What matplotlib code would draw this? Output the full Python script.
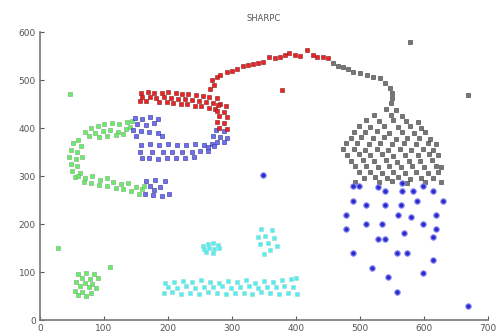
import matplotlib
matplotlib.use("Agg")
import matplotlib.pyplot as plt

# ---- data ----
red_x = [158, 168, 178, 190, 200, 212, 222, 232, 244, 254, 264, 276,
         160, 172, 182, 194, 204, 216, 226, 238, 248, 260, 270, 282,
         156, 166, 186, 198, 208, 220, 230, 242, 252, 264, 274,
         278, 290, 276, 288, 280, 292, 276, 288, 280, 292,
         266, 272, 269, 277, 281, 292, 300, 308, 317, 325, 333, 341, 348,
         358, 367, 375, 383, 389, 398, 406, 417, 427, 433, 442, 450, 378]
red_y = [473, 474, 472, 473, 474, 472, 471, 470, 468, 467, 465, 462,
         464, 465, 463, 464, 462, 461, 460, 458, 457, 455, 452, 450,
         456, 457, 455, 455, 453, 450, 449, 446, 445, 442, 440,
         448, 446, 436, 434, 424, 422, 412, 410, 400, 398,
         482, 490, 500, 506, 510, 517, 519, 523, 529, 531, 533, 535, 537,
         548, 546, 548, 552, 556, 552, 550, 562, 552, 548, 548, 546, 479]

blue_small_x = [275, 287, 270, 282, 292, 276, 288,
                158, 172, 186, 200, 214, 228, 242, 256, 268,
                156, 175, 192, 206, 222, 238, 250, 262,
                160, 170, 184, 198, 212, 226, 240, 262, 272,
                148, 160, 172, 184, 152, 166, 178, 146, 158, 170, 185, 150, 190,
                165, 180, 196, 172, 188, 178, 164, 176, 190, 202]
blue_small_y = [395, 393, 383, 381, 380, 371, 370,
                365, 366, 364, 366, 365, 364, 366, 365, 367,
                350, 351, 349, 350, 351, 350, 352, 353,
                337, 338, 336, 337, 338, 337, 339, 360, 362,
                420, 418, 422, 419, 408, 406, 410, 396, 394, 392, 390, 384, 383,
                290, 292, 290, 280, 278, 270, 262, 260, 258, 262]

blue_big_x = [489, 498, 528, 539, 566, 566, 583, 598, 614, 489, 509, 539,
              564, 589, 630, 478, 559, 580, 619, 509, 534, 598, 478, 619,
              569, 614, 528, 539, 489, 558, 573, 614, 519, 598, 544, 558,
              669, 348]
blue_big_y = [279, 279, 277, 269, 285, 269, 269, 279, 269, 248, 240, 240,
              240, 248, 248, 219, 219, 215, 219, 200, 200, 200, 190, 190,
              181, 173, 169, 169, 140, 140, 140, 125, 108, 98, 90, 58,
              29, 302]

black_x = [458, 466, 473, 481, 489, 500, 511, 520, 531, 539, 547, 550, 550,
           548, 540, 556, 522, 548, 566, 510, 530, 552, 572, 590,
           498, 516, 538, 560, 578, 596, 490, 508, 526, 546, 566, 584, 602,
           486, 502, 520, 538, 556, 574, 592, 610,
           478, 496, 514, 532, 550, 568, 588, 606, 618,
           474, 490, 508, 526, 544, 562, 580, 598, 614,
           480, 498, 516, 534, 552, 570, 590, 608, 622,
           486, 504, 522, 540, 558, 576, 594, 612,
           492, 510, 528, 546, 564, 582, 600, 618, 626,
           498, 516, 534, 552, 570, 588, 606, 622,
           506, 524, 542, 560, 578, 596, 614,
           492, 530, 550, 574, 602, 626,
           578, 669]
black_y = [535, 529, 527, 523, 517, 515, 510, 506, 504, 494, 483, 473, 462,
           452, 440, 438, 428, 427, 426, 416, 415, 417, 414, 412,
           404, 403, 405, 402, 404, 401, 392, 391, 393, 390, 392, 389, 391,
           380, 381, 379, 381, 378, 380, 379, 377,
           368, 369, 367, 369, 366, 368, 367, 369, 366,
           356, 357, 355, 357, 354, 356, 355, 357, 354,
           344, 345, 343, 345, 342, 344, 343, 345, 343,
           332, 333, 331, 333, 330, 332, 331, 333,
           320, 321, 319, 321, 318, 320, 319, 321, 318,
           308, 309, 307, 309, 306, 308, 307, 309,
           296, 297, 295, 297, 294, 296, 295,
           288, 287, 289, 286, 288, 287,
           579, 469]

green_x = [70, 80, 90, 100, 112, 124, 136, 144, 86, 98, 110, 122, 134, 140,
           76, 92, 104, 118, 130,
           60, 52, 64, 48, 58, 46, 56, 66, 48, 58, 50, 62, 54,
           60, 70, 82, 94, 104, 114, 126, 138, 150, 160,
           68, 80, 92, 104, 118, 130, 142, 154, 162,
           47, 28, 109,
           60, 72, 84, 66, 78, 90, 56, 70, 82, 62, 76, 88, 54, 66, 80, 72, 60]
green_y = [392, 400, 405, 408, 410, 408, 412, 415, 390, 394, 395, 392, 398, 402,
           384, 382, 384, 386, 388,
           376, 368, 362, 355, 350, 340, 335, 340, 325, 320, 310, 306, 298,
           300, 296, 300, 292, 296, 288, 284, 286, 278, 272,
           288, 286, 282, 280, 276, 272, 268, 262, 280,
           471, 150, 110,
           95, 98, 96, 88, 86, 88, 80, 78, 76, 70, 68, 66, 60, 58, 56, 50, 52]

cyan_x = [254, 262, 270, 278, 256, 264, 272, 280, 260, 270,
          346, 362, 352, 340, 366, 356, 344, 370, 360, 350,
          196, 210, 224, 238, 252, 266, 280, 294, 308, 322, 336, 350, 364, 378, 392, 400,
          200, 214, 228, 242, 256, 270, 284, 298, 312, 326, 340, 354, 368, 382, 396,
          194, 206, 220, 234, 248, 262, 276, 290, 304, 318, 332, 346, 360, 374, 388, 402]
cyan_y = [155, 158, 160, 156, 148, 150, 148, 150, 142, 140,
          190, 188, 175, 172, 170, 160, 158, 155, 145, 137,
          78, 80, 82, 79, 84, 80, 78, 82, 80, 84, 78, 82, 80, 83, 86, 88,
          68, 67, 70, 66, 69, 68, 70, 66, 68, 70, 67, 69, 68, 70, 68,
          56, 58, 55, 57, 54, 58, 56, 55, 57, 56, 54, 58, 56, 55, 57, 54]

fig = plt.figure(figsize=(4.97, 3.36), dpi=100)
ax = fig.add_axes([40 / 497, 16 / 336, 448 / 497, 288 / 336])

ax.scatter(cyan_x, cyan_y, s=11, marker="s", c="#55eeee", edgecolors="#9ad8d8", linewidths=0.4)
ax.scatter(green_x, green_y, s=9, marker="s", c="#66ee66", edgecolors="#7aa87a", linewidths=0.4)
ax.scatter(black_x, black_y, s=7, marker="s", c="#777777", edgecolors="#3a3a3a", linewidths=0.4)
ax.scatter(blue_small_x, blue_small_y, s=9, marker="s", c="#7070f0", edgecolors="#303090", linewidths=0.4)
ax.scatter(blue_big_x, blue_big_y, s=15, marker="o", c="#2a2ad0", edgecolors="#8a8af0", linewidths=0.8)
ax.scatter(red_x, red_y, s=9, marker="s", c="#ee2222", edgecolors="#802020", linewidths=0.4)

ax.set_xlim(0, 700)
ax.set_ylim(0, 600)
ax.set_xticks(range(0, 701, 100))
ax.set_yticks(range(0, 601, 100))
ax.tick_params(direction="in", length=3, labelsize=6.5, colors="#555555", pad=3)
for side in ["top", "right"]:
    ax.spines[side].set_visible(False)
for side in ["left", "bottom"]:
    ax.spines[side].set_color("#777777")
    ax.spines[side].set_linewidth(1.2)
ax.set_title("SHARPC", fontsize=6, color="#555555", pad=8)

fig.savefig("out.png", dpi=100)
